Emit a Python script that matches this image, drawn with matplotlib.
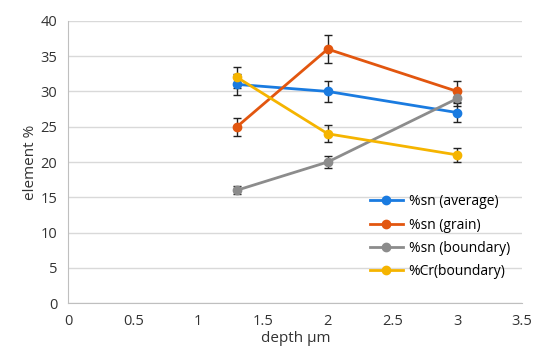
import matplotlib
matplotlib.use("Agg")
import matplotlib.pyplot as plt

depth = [1.3, 2, 3]
sn_average = [31, 30, 27]
sn_average_err = [1.5, 1.5, 1.3]
sn_grain = [25, 36, 30]
sn_grain_err = [1.3, 2.0, 1.5]
sn_boundary = [16, 20, 29]
sn_boundary_err = [0.6, 0.9, 1.0]
cr_boundary = [32, 24, 21]
cr_boundary_err = [1.5, 1.2, 1.0]

labels = ["%sn (average)", "%sn (grain)", "%sn (boundary)", "%Cr(boundary)"]
colors = ["#1a7be0", "#e2560f", "#8c8c8c", "#f5b400"]

plt.rcParams["font.family"] = ["Open Sans", "DejaVu Sans"]

fig, ax = plt.subplots(figsize=(5.35, 3.6), dpi=100)
fig.subplots_adjust(left=0.128, right=0.976, top=0.942, bottom=0.158)

series = [
    (sn_average, sn_average_err),
    (sn_grain, sn_grain_err),
    (sn_boundary, sn_boundary_err),
    (cr_boundary, cr_boundary_err),
]
for (vals, err), lab, col in zip(series, labels, colors):
    ax.errorbar(depth, vals, yerr=err, color=col, lw=2, marker="o", ms=6,
                ecolor="#222222", elinewidth=1, capsize=3, capthick=1,
                label=lab, zorder=3)

ax.set_xlim(0, 3.5)
ax.set_ylim(0, 40)
ax.set_xticks([0, 0.5, 1, 1.5, 2, 2.5, 3, 3.5])
ax.set_xticklabels(["0", "0.5", "1", "1.5", "2", "2.5", "3", "3.5"])
ax.set_yticks(range(0, 41, 5))
ax.tick_params(length=0, labelsize=10.5, colors="#333333", pad=8)
ax.grid(axis="y", color="#d9d9d9", lw=1)
ax.set_axisbelow(True)
for s in ["top", "right"]:
    ax.spines[s].set_visible(False)
for s in ["left", "bottom"]:
    ax.spines[s].set_color("#bfbfbf")
ax.set_xlabel("depth µm", fontsize=11, color="#333333", labelpad=1)
ax.set_ylabel("element %", fontsize=11, color="#333333", labelpad=2)

handles, labs = ax.get_legend_handles_labels()
handles = [h[0] for h in handles]
ax.legend(handles, labs, loc="lower right", bbox_to_anchor=(0.985, 0.065),
          frameon=False, fontsize=10, handlelength=2.4, handletextpad=0.4,
          labelspacing=0.6, borderaxespad=0.0)

fig.savefig("out.png", dpi=100)
